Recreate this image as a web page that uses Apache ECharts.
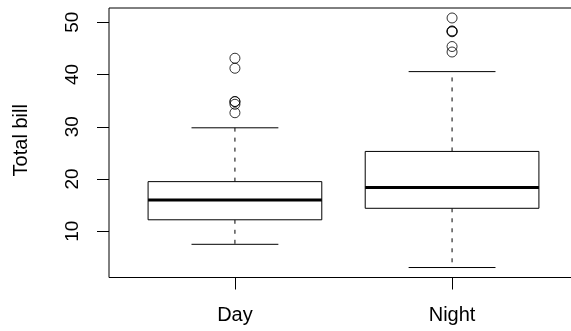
<!DOCTYPE html>
<html>
<head>
<meta charset="utf-8">
<script src="https://cdn.jsdelivr.net/npm/echarts@6/dist/echarts.min.js"></script>
<style>
  html, body { margin: 0; padding: 0; background: #fff; }
  #chart { width: 571px; height: 331px; }
</style>
</head>
<body>
<div id="chart"></div>
<script>
// Total bill by time of day: five-number summaries plus outliers
const categories = ['Day', 'Night'];
const whiskerLow  = [7.51, 3.07];
const hingeLow    = [12.2, 14.4];
const medians     = [15.97, 18.39];
const hingeHigh   = [19.5, 25.28];
const whiskerHigh = [29.8, 40.55];
const outliersDay   = [32.68, 34.3, 34.81, 34.83, 41.19, 43.11];
const outliersNight = [44.3, 45.35, 48.17, 48.27, 48.33, 50.81];
const yTicks = [10, 20, 30, 40, 50];

const FONT = '"Liberation Sans", Arial, sans-serif';
const INK = '#000';

// box positions 1..n, plot range padded like a base-R boxplot
const xs = categories.map((_, i) => i + 1);
const boxData = xs.map((x, i) => [x, whiskerLow[i], hingeLow[i], medians[i], hingeHigh[i], whiskerHigh[i]]);
const outlierData = [];
outliersDay.forEach(v => outlierData.push([1, v]));
outliersNight.forEach(v => outlierData.push([2, v]));

const allVals = [].concat(whiskerLow, whiskerHigh, outliersDay, outliersNight);
const lo = Math.min(...allVals), hi = Math.max(...allVals);
const pad = (hi - lo) * 0.04;
const xPad = (categories.length) * 0.04;

const BOX_HALF = 0.4, CAP_HALF = 0.2;

function renderBox(params, api) {
  const x = api.value(0);
  const vmin = api.value(1), q1 = api.value(2), med = api.value(3), q3 = api.value(4), vmax = api.value(5);
  const pt = (dx, v) => api.coord([x + dx, v]);
  const lineStyle = { stroke: INK, lineWidth: 1 };
  const dashStyle = { stroke: INK, lineWidth: 1, lineDash: [4, 6] };
  const seg = (a, b, style) => ({ type: 'line', shape: { x1: a[0], y1: a[1], x2: b[0], y2: b[1] }, style });
  const tl = pt(-BOX_HALF, q3), br = pt(BOX_HALF, q1);
  return {
    type: 'group',
    children: [
      seg(pt(0, q3), pt(0, vmax), dashStyle),
      seg(pt(0, q1), pt(0, vmin), dashStyle),
      seg(pt(-CAP_HALF, vmax), pt(CAP_HALF, vmax), lineStyle),
      seg(pt(-CAP_HALF, vmin), pt(CAP_HALF, vmin), lineStyle),
      { type: 'rect', shape: { x: tl[0], y: tl[1], width: br[0] - tl[0], height: br[1] - tl[1] },
        style: { fill: '#fff', stroke: INK, lineWidth: 1 } },
      seg(pt(-BOX_HALF, med), pt(BOX_HALF, med), { stroke: INK, lineWidth: 3 })
    ]
  };
}

const chart = echarts.init(document.getElementById('chart'), null, { renderer: 'canvas' });
chart.setOption({
  animation: false,
  backgroundColor: '#fff',
  grid: {
    left: 109, top: 8, width: 469, height: 269.5,
    outerBoundsMode: 'none', containLabel: false,
    show: true, borderColor: INK, borderWidth: 1, backgroundColor: 'transparent'
  },
  xAxis: {
    type: 'value',
    min: 1 - 0.5 - xPad, max: categories.length + 0.5 + xPad,
    axisLine: { show: false },
    splitLine: { show: false },
    axisTick: { show: true, length: 12, customValues: xs, lineStyle: { color: INK } },
    axisLabel: {
      customValues: xs, margin: 28, color: INK, fontFamily: FONT, fontSize: 20,
      formatter: v => categories[Math.round(v) - 1] || ''
    }
  },
  yAxis: {
    type: 'value',
    min: lo - pad, max: hi + pad,
    name: 'Total bill', nameLocation: 'middle', nameRotate: 90, nameGap: 78,
    nameTextStyle: { color: INK, fontFamily: FONT, fontSize: 20, padding: [0, 0, 0, 5] },
    axisLine: { show: false },
    splitLine: { show: false },
    axisTick: { show: true, length: 12, customValues: yTicks, lineStyle: { color: INK } },
    axisLabel: { customValues: yTicks, rotate: 90, margin: 27, color: INK, fontFamily: FONT, fontSize: 19 }
  },
  series: [
    {
      type: 'custom',
      renderItem: renderBox,
      data: boxData,
      encode: { x: 0, y: [1, 2, 3, 4, 5] },
      clip: false
    },
    {
      type: 'scatter',
      data: outlierData,
      symbol: 'circle',
      symbolSize: 10,
      itemStyle: { color: 'rgba(0,0,0,0)', borderColor: INK, borderWidth: 1 },
      z: 3
    }
  ]
});
</script>
</body>
</html>
